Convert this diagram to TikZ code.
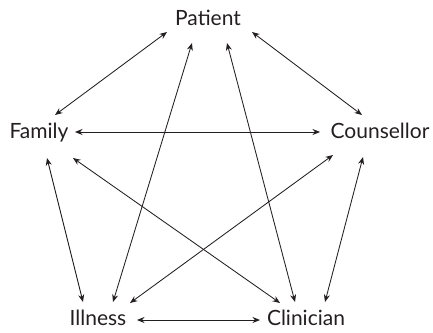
\documentclass[tikz,border=0pt]{standalone}
\usepackage{fontspec}
\setmainfont{Lato}
\usetikzlibrary{arrows.meta}
\definecolor{ink}{HTML}{231F20}
\begin{document}
\begin{tikzpicture}[x=1pt,y=-1pt,
  lab/.style={anchor=base,inner sep=0pt,text=ink,font=\fontsize{21}{25}\selectfont},
  arr/.style={draw=ink,line width=0.85pt,{Stealth[length=7.5pt,width=6pt]}-{Stealth[length=7.5pt,width=6pt]}}]
\useasboundingbox (0,0) rectangle (433,332);
\node[lab] (P) at (208,25) {Patient};
\node[lab] (F) at (39,138) {Family};
\node[lab] (Co) at (380,138) {Counsellor};
\node[lab] (I) at (98,325) {Illness};
\node[lab] (Cl) at (306,325) {Clinician};
\draw[arr] ([shift={(-41,7)}]P.base) -- ([shift={(16,-23)}]F.base);
\draw[arr] ([shift={(44,7)}]P.base) -- ([shift={(-18,-23)}]Co.base);
\draw[arr] ([shift={(-16,18)}]P.base) -- ([shift={(15,-23)}]I.base);
\draw[arr] ([shift={(19,18)}]P.base) -- ([shift={(-11,-23)}]Cl.base);
\draw[arr] ([shift={(36,-6)}]F.base) -- ([shift={(-60,-6)}]Co.base);
\draw[arr] ([shift={(8,20)}]F.base) -- ([shift={(-15,-23)}]I.base);
\draw[arr] ([shift={(34,20)}]F.base) -- ([shift={(-26,-22)}]Cl.base);
\draw[arr] ([shift={(-47,17)}]Co.base) -- ([shift={(32,-22)}]I.base);
\draw[arr] ([shift={(-17,19)}]Co.base) -- ([shift={(19,-23)}]Cl.base);
\draw[arr] ([shift={(39,-5)}]I.base) -- ([shift={(-46,-5)}]Cl.base);
\end{tikzpicture}
\end{document}
